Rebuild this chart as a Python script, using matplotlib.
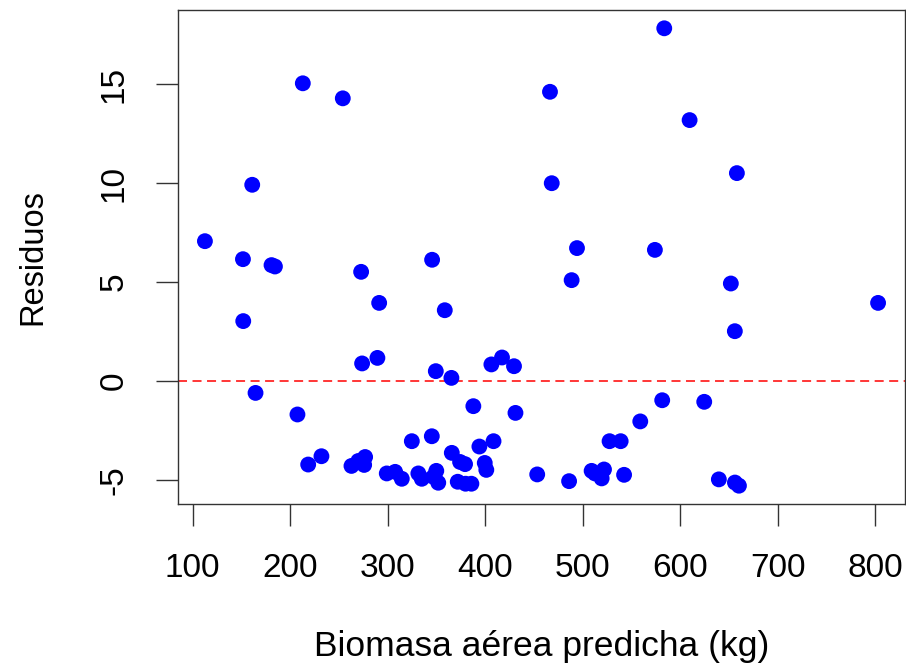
import numpy as np
import matplotlib.pyplot as plt

plt.rcParams['font.family'] = ['Liberation Sans', 'DejaVu Sans']

# predicted biomass (kg) and residuals
predicha = [112.7, 151.7, 152.0, 161.2, 164.6, 181.0, 184.5, 207.6, 213.1, 218.6,
            232.2, 254.1, 263.0, 270.0, 277.0, 276.0, 272.9, 273.9, 289.6, 291.4,
            299.2, 307.8, 314.6, 324.9, 331.6, 335.1, 345.4, 345.7, 349.5, 350.0,
            352.0, 347.0, 358.7, 365.5, 365.9, 374.4, 379.5, 372.0, 380.0, 386.0,
            388.0, 394.2, 399.7, 401.3, 406.5, 408.7, 417.4, 429.7, 431.2, 453.5,
            466.6, 468.4, 486.2, 488.8, 494.3, 509.3, 512.7, 522.0, 519.6, 527.7,
            539.1, 542.6, 559.2, 574.2, 581.7, 583.8, 609.8, 624.8, 639.8, 652.1,
            656.2, 658.3, 656.3, 660.4, 803.1]
residuos = [7.06, 6.15, 3.02, 9.91, -0.61, 5.85, 5.78, -1.70, 15.04, -4.23,
            -3.81, 14.28, -4.30, -4.05, -3.85, -4.25, 5.51, 0.88, 1.16, 3.94,
            -4.68, -4.60, -4.95, -3.05, -4.68, -4.95, -2.80, 6.12, 0.49, -4.55,
            -5.15, -4.85, 3.57, 0.15, -3.64, -4.10, -4.21, -5.10, -5.20, -5.20,
            -1.28, -3.32, -4.15, -4.50, 0.83, -3.05, 1.18, 0.74, -1.62, -4.73,
            14.61, 9.99, -5.07, 5.09, 6.71, -4.55, -4.68, -4.48, -4.93, -3.05,
            -3.05, -4.75, -2.05, 6.62, -0.98, 17.82, 13.18, -1.06, -4.98, 4.92,
            2.51, 10.50, -5.14, -5.30, 3.94]

x_ticks = [100, 200, 300, 400, 500, 600, 700, 800]
y_ticks = [-5, 0, 5, 10, 15]

fig = plt.figure(figsize=(9.06, 6.64), dpi=100)
ax = fig.add_axes([178/906, 1 - 504/664, 727/906, 494/664])

ax.scatter(predicha, residuos, s=130, color='blue', edgecolors='none', zorder=3)
ax.axhline(0, color='red', lw=1.1, dashes=(5.9, 3.6), zorder=2)


def r_range(v):
    lo, hi = min(v), max(v)
    d = (hi - lo) * 0.04
    return lo - d, hi + d


ax.set_xlim(*r_range(predicha))
ax.set_ylim(*r_range(residuos))
ax.set_xticks(x_ticks)
ax.set_yticks(y_ticks)
ax.set_yticklabels([str(t) for t in y_ticks], rotation=90, va='center')

for sp in ax.spines.values():
    sp.set_color('#333333')
    sp.set_linewidth(1.0)
ax.tick_params(length=16, width=1.0, color='#333333', labelsize=24, pad=19)

ax.set_xlabel('Biomasa aérea predicha (kg)', fontsize=25.5)
ax.set_ylabel('Residuos', fontsize=23.5)
ax.xaxis.set_label_coords(0.5, -0.255)
ax.yaxis.set_label_coords(-0.178, 0.5)

fig.savefig('out.png', dpi=100)
